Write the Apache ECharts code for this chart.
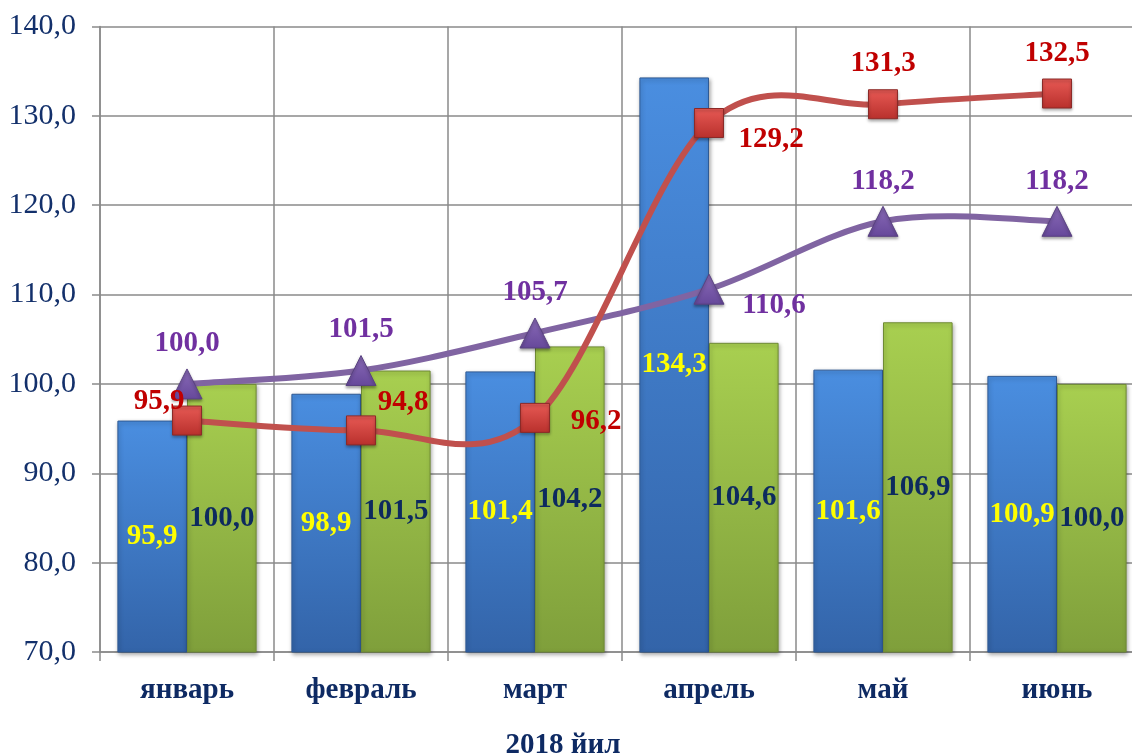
<!DOCTYPE html>
<html>
<head>
<meta charset="utf-8">
<script src="https://cdn.jsdelivr.net/npm/echarts@6/dist/echarts.min.js"></script>
<style>
html,body{margin:0;padding:0;background:#fff;}
#main{width:1132px;height:756px;}
</style>
</head>
<body>
<div id="main"></div>
<script>
const categories = ['январь', 'февраль', 'март', 'апрель', 'май', 'июнь'];
const blueValues = [95.9, 98.9, 101.4, 134.3, 101.6, 100.9];
const greenValues = [100.0, 101.5, 104.2, 104.6, 106.9, 100.0];
const redValues = [95.9, 94.8, 96.2, 129.2, 131.3, 132.5];
const purpleValues = [100.0, 101.5, 105.7, 110.6, 118.2, 118.2];
const axisName = '2018 йил';

const FONT = '"Liberation Serif", "Times New Roman", serif';
const fmt = v => Number(v).toFixed(1).replace('.', ',');

// label offsets (style only)
const redOffsets = [[-28, -19], [42, -28], [61, 4], [62, 17], [0, -41], [0, -40]];
const purpleOffsets = [[0, -40], [0, -41], [0, -40], [65, 16], [0, -40], [0, -40]];

function lineData(values, offsets) {
  return values.map((v, i) => ({
    value: v,
    label: { offset: offsets[i] }
  }));
}

// Smooth (Catmull-Rom style, like a spreadsheet "smoothed line") curve segments
// computed from data through the chart's own coordinate system (api.coord).
function curveSeries(values, color, z) {
  return {
    type: 'custom',
    z: z,
    silent: true,
    data: values.map((v, i) => [i, v]),
    encode: { x: 0, y: 1 },
    renderItem: function (params, api) {
      const i = params.dataIndex;
      const n = values.length;
      if (i >= n - 1) return null;
      const P = k => {
        const kk = Math.max(0, Math.min(n - 1, k));
        return api.coord([kk, values[kk]]);
      };
      const p0 = P(i - 1), p1 = P(i), p2 = P(i + 1), p3 = P(i + 2);
      return {
        type: 'bezierCurve',
        shape: {
          x1: p1[0], y1: p1[1],
          cpx1: p1[0] + (p2[0] - p0[0]) / 6, cpy1: p1[1] + (p2[1] - p0[1]) / 6,
          cpx2: p2[0] - (p3[0] - p1[0]) / 6, cpy2: p2[1] - (p3[1] - p1[1]) / 6,
          x2: p2[0], y2: p2[1]
        },
        style: { stroke: color, lineWidth: 6, fill: null, lineCap: 'round' }
      };
    }
  };
}

const chart = echarts.init(document.getElementById('main'));
const grayLine = { color: '#8a8a8a', width: 1.5 };

chart.setOption({
  animation: false,
  backgroundColor: '#ffffff',
  grid: { left: 100, right: -12, top: 26.5, bottom: 104, containLabel: false, outerBoundsMode: 'none' },
  xAxis: {
    type: 'category',
    data: categories,
    boundaryGap: true,
    axisLine: { show: true, lineStyle: grayLine },
    axisTick: { show: true, length: 9, interval: 0, lineStyle: grayLine },
    splitLine: { show: true, interval: 0, lineStyle: grayLine },
    axisLabel: {
      interval: 0, margin: 24,
      fontFamily: FONT, fontSize: 29, fontWeight: 'bold', color: '#0e2a63'
    }
  },
  yAxis: {
    type: 'value',
    min: 70, max: 140, interval: 10,
    axisLine: { show: true, lineStyle: grayLine },
    axisTick: { show: true, length: 8, lineStyle: grayLine },
    splitLine: { show: true, lineStyle: grayLine },
    axisLabel: {
      margin: 24, formatter: fmt,
      fontFamily: FONT, fontSize: 30, color: '#13306b'
    }
  },
  graphic: [{
    type: 'text',
    x: 563, y: 746,
    style: {
      text: axisName, fontFamily: FONT, fontSize: 29, fontWeight: 'bold',
      fill: '#0e2a63', align: 'center', verticalAlign: 'middle'
    }
  }],
  series: [
    {
      type: 'bar',
      data: blueValues,
      barGap: '0%',
      barCategoryGap: '20%',
      z: 2,
      itemStyle: {
        color: new echarts.graphic.LinearGradient(0, 0, 0, 1, [
          { offset: 0, color: '#4a8ee0' },
          { offset: 1, color: '#3364a9' }
        ]),
        borderColor: '#2f5a94', borderWidth: 1,
        shadowBlur: 4, shadowColor: 'rgba(0,0,0,0.35)', shadowOffsetX: 1, shadowOffsetY: 2
      },
      label: {
        show: true, position: 'inside', formatter: p => fmt(p.value),
        fontFamily: FONT, fontSize: 29, fontWeight: 'bold', color: '#ffff00'
      }
    },
    {
      type: 'bar',
      data: greenValues,
      barGap: '0%',
      barCategoryGap: '20%',
      z: 2,
      itemStyle: {
        color: new echarts.graphic.LinearGradient(0, 0, 0, 1, [
          { offset: 0, color: '#a8cf50' },
          { offset: 1, color: '#7f9f3b' }
        ]),
        borderColor: '#6f8a35', borderWidth: 1,
        shadowBlur: 4, shadowColor: 'rgba(0,0,0,0.35)', shadowOffsetX: 1, shadowOffsetY: 2
      },
      label: {
        show: true, position: 'inside', formatter: p => fmt(p.value),
        fontFamily: FONT, fontSize: 29, fontWeight: 'bold', color: '#0d2a5e'
      }
    },
    curveSeries(purpleValues, '#8064a2', 3),
    curveSeries(redValues, '#c0504d', 3.5),
    {
      type: 'line',
      data: lineData(purpleValues, purpleOffsets),
      z: 5,
      lineStyle: { opacity: 0, width: 0 },
      symbol: 'triangle',
      symbolSize: [30, 30],
      itemStyle: {
        color: new echarts.graphic.LinearGradient(0, 0, 0, 1, [
          { offset: 0, color: '#8a6bb8' },
          { offset: 1, color: '#66489a' }
        ]),
        borderColor: '#5a4282', borderWidth: 1,
        shadowBlur: 3, shadowColor: 'rgba(0,0,0,0.35)', shadowOffsetY: 2
      },
      label: {
        show: true, position: 'inside', formatter: p => fmt(p.value),
        fontFamily: FONT, fontSize: 29, fontWeight: 'bold', color: '#7030a0'
      }
    },
    {
      type: 'line',
      data: lineData(redValues, redOffsets),
      z: 6,
      lineStyle: { opacity: 0, width: 0 },
      symbol: 'rect',
      symbolSize: [29, 29],
      itemStyle: {
        color: new echarts.graphic.LinearGradient(0, 0, 0, 1, [
          { offset: 0, color: '#e85a55' },
          { offset: 1, color: '#b8302c' }
        ]),
        borderColor: '#8b2a28', borderWidth: 1,
        shadowBlur: 3, shadowColor: 'rgba(0,0,0,0.35)', shadowOffsetY: 2
      },
      label: {
        show: true, position: 'inside', formatter: p => fmt(p.value),
        fontFamily: FONT, fontSize: 29, fontWeight: 'bold', color: '#c00000'
      }
    }
  ]
});
</script>
</body>
</html>
